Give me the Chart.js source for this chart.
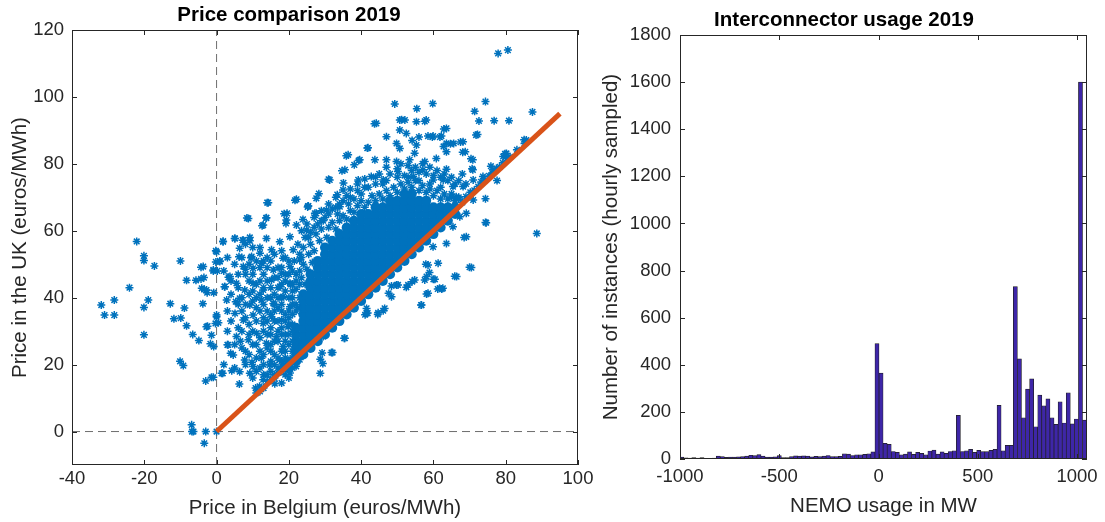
<!DOCTYPE html>
<html lang="en">
<head>
<meta charset="UTF-8">
<title>Price comparison and interconnector usage 2019</title>
<script src="https://cdn.jsdelivr.net/npm/chart.js"></script>
<style>
  body { margin: 0; background: #fff; }
  #wrap { position: relative; width: 1105px; height: 522px; }
  canvas { position: absolute; top: 0; }
  #priceChart { left: 0; }
  #usageChart { left: 598px; }
</style>
</head>
<body>
<div id="wrap">
  <canvas id="priceChart" width="598" height="522"></canvas>
  <canvas id="usageChart" width="507" height="522"></canvas>
</div>
<script>
// ---- price comparison (Belgium vs UK, euros/MWh) ----
const beRange = [-40, 100];
const ukRange = [-10, 120];
const beTicks = [-40, -20, 0, 20, 40, 60, 80, 100];
const ukTicks = [0, 20, 40, 60, 80, 100, 120];

// equal-price line, from 0 up to the highest price
const parityLine = [0, 95];

// individual hours, [Belgium, UK]
const hourPrices = [
  [-31.9,37.8],[-31.0,34.8],[-28.3,39.3],[-28.3,34.8],[-24.1,43.0],[-22.1,56.8],[-20.1,52.5],[-20.1,51.1],
  [-20.1,37.1],[-20.1,28.9],[-18.9,39.3],[-17.2,49.5],[-12.8,38.2],[-11.8,33.7],[-10.0,51.0],[-9.9,33.9],
  [-10.1,21.0],[-9.2,19.7],[-8.9,36.9],[-8.3,45.2],[-8.3,31.6],[-6.9,2.0],[-6.8,0],[-6.4,0],[-6.6,29.0],
  [-4.9,27.2],[-5.7,45.2],[-4.3,49.1],[-4.3,45.6],[-3.5,46.0],[-3.8,38.2],[-3.0,0],[-3.4,-3.5],[-3.0,15.1],
  [-2.5,31.5],[-1.7,26.2],[-1.4,16.2],[-2.6,41.5],[-3.4,42.5],[-0.9,48.0],[0.2,48.0],[-0.8,41.5],[-0.8,25.4],
  [0,53.7],[-0.2,50.7],[0.9,51.0],[0,0],[0,34.8],[-0.3,32.3],[0.5,32.5],[1.8,56.7],[1.7,17.4],[2.2,43.3],
  [3.3,46.1],[3.0,25.9],[3.9,23.4],[4.2,18.2],[5.0,57.7],[5.3,38.8],[6.6,27.0],[7.2,57.2],[6.2,52.2],
  [6.3,14.2],[8.4,63.8],[9.2,57.0],[8.0,48.5],[9.5,51.9],[9.8,20.7],[14.0,68.4],[12.6,61.5],[13.7,63.8],
  [18.7,65.1],[21.7,69.1],[19.3,63.2],[25.2,67.1],[28.3,71.1],[31.0,75.4],[33.4,70.8],[35.1,74.3],
  [34.7,77.9],[35.9,82.4],[38.1,79.7],[39.3,81.0],[41.7,84.7],[43.7,92.0],[49.3,97.9],[55.4,96.5],
  [59.8,98.0],[51.2,93.2],[57.6,92.7],[62.9,90.4],[61.8,88.0],[64.7,86.0],[67.5,86.5],[68.1,83.5],
  [62.8,85.2],[59.7,88.0],[56.0,88.0],[54.1,87.0],[74.4,98.6],[71.4,95.7],[72.6,92.8],[76.8,92.9],
  [80.9,92.9],[71.8,88.6],[77.9,113.0],[80.6,114.0],[87.4,95.5],[85.1,87.2],[79.8,83.0],[79.3,82.2],
  [70.4,81.5],[70.7,78.5],[75.9,79.3],[77.6,75.0],[74.4,69.6],[74.4,62.5],[88.6,59.2],[70.0,49.1],
  [65.9,46.4],[68.5,58.0],[61.2,42.6],[62.3,42.6],[60.0,45.5],[58.9,47.5],[57.9,50.0],[57.6,45.3],
  [56.6,37.8],[58.1,41.1],[54.1,44.8],[52.5,43.1],[50.2,43.8],[48.4,43.5],[47.6,41.3],[46.1,36.1],
  [44.6,35.0],[41.8,35.4],[41.5,36.8],[41.1,34.9],[35.3,27.9],[31.8,23.6],[29.2,23.5],[28.7,21.6],
  [29.4,20.3],[28.7,17.4],[20.3,17.5],[16.1,14.3],
  [14.3,68.4],[22.1,69.4],[8.8,63.7],[13.8,63.9],[19.5,65.2],[19.2,62.2],[12.9,61.7],[25.4,67.4],
  [27.6,65.2],[22.1,61.7],[24.9,60.2],[5.1,57.7],[1.8,56.9],[7.4,57.2],[9.2,58.0],[13.8,57.7],
  [17.5,56.7],[20.3,58.2],[-0.2,54.0],[6.4,54.8],[9.7,52.3],[12.0,53.3],[15.2,54.3],[18.4,51.8],
  [21.2,54.3],[23.0,51.3],[-0.9,48.3],[0.9,50.8],[3.7,46.3],[7.4,49.3],[10.1,48.8],[12.4,50.3],
  [15.7,48.3],[18.0,47.3],[20.3,49.3],[-3.7,49.3],[-4.1,42.8],[-2.8,42.3],[2.3,43.3],[5.5,44.3],
  [7.8,42.3],[10.1,44.3],[12.9,42.3],[15.2,45.3],[17.5,43.3],[20.3,44.3],[2.8,39.3],[6.4,39.8],
  [9.2,37.8],[12.4,39.3],[15.7,38.3],[18.4,40.3],[20.3,37.3],[0,34.3],[-2.8,31.3],[-1.4,28.8],
  [5.1,35.3],[7.4,33.3],[10.1,34.8],[12.9,32.3],[15.2,34.3],[18.0,33.3],[19.8,31.3],[3.2,25.9],
  [5.5,28.4],[8.8,27.4],[11.1,29.4],[13.8,26.4],[16.6,28.4],[18.4,25.4],[4.6,22.9],[7.8,21.4],
  [10.1,19.4],[12.4,21.9],[14.7,19.9],[17.5,21.4],[6.4,17.9],[9.2,17.4],[1.4,17.4],[-0.9,16.2],
  [29.5,28.4],[32.1,23.6],[35.5,27.9],[41.5,35.3],[44.7,35.5],[48.4,40.3],[49.8,43.8],[46.5,36.8],
  [53.0,43.8],[54.8,45.3],[58.1,46.3],[61.7,42.8],[62.6,42.8],[56.7,37.8],[58.5,41.3],[60.4,45.5],
  [66.4,46.3],[70.5,49.0],[69.1,58.2],[74.6,62.4],[58.5,49.8],[61.3,50.3],[65.4,61.2],[67.3,64.2],
  [63.6,56.2],[59.9,55.2],
  [44.2,92.1],[50.7,93.1],[52.1,93.1],[55.3,92.6],[58.0,93.1],[50.7,90.1],[52.5,89.1],[47.0,88.1],
  [58.5,88.3],[59.9,88.3],[62.2,88.3],[63.6,90.6],[63.6,86.1],[65.6,86.1],[68.2,86.6],[41.9,84.8],
  [49.8,86.1],[50.7,84.6],[55.3,85.6],[54.8,83.2],[60.8,81.6],[63.6,83.6],[68.8,83.6],[70.9,81.2],
  [36.4,82.7],[39.6,81.2],[43.8,81.2],[47.0,81.2],[49.8,80.7],[53.4,81.2],[57.6,80.7],[63.6,78.4],
  [70.9,78.2],[76.5,78.2],[80.2,83.1],[85.7,87.1],[72.2,88.8],[35.5,78.2],[31.3,75.2],[27.6,69.7],
  [25.3,67.4],[27.2,65.2],[23.9,63.4],[30.4,66.2],[34.1,67.2],[35.0,72.2],[39.2,75.2],[42.8,76.2],
  [46.1,75.2],[50.2,77.7],[54.4,76.2],[57.1,78.2],[59.9,75.2],[62.7,75.2],[65.4,73.2],[68.2,73.2],
  [66.3,70.2],[71.0,69.2],[69.1,65.2],[71.0,75.2],[73.7,76.2],
  [69,70.2],[70.2,71.5],[71.3,72.1],[72.4,73.2],[73.2,74.6],[74.3,75.1],[75.4,76.4],[76.3,77.2],
  [77.4,78.6],[78.3,79.1],[79.2,80.3],[80.3,81.6],[81.2,82.1],[83.1,84.2],[85.2,86.1],
  // ragged upper edge of the crowded part
  [22.5,37],[23,40],[22,42.5],[24.5,44],[23.5,46],[25,48.5],[24,50],[26.5,50.5],[25.5,53],[27,54],
  [26,56],[28.5,57],[27.5,59],[29,60.5],[30.5,58],[31,61],[29.5,63],[32,62.5],[33,60.5],[34,63],
  [33.5,65],[35,64.5],[36,63.5],[37,66],[36.5,68],[38,65.5],[39,67.5],[40,69],[41,67],[42,68.5],
  [43,70.5],[44,69],[45,71],[46,69.5],[47,72],[48,70.5],[49,73],[50,71.5],[51,74],[52,72.5],
  [53,74.5],[54,73],[55,75],[56,72],[57,73.5],[58,71.5],[59,72.5],[60,70.5],[61,72],[62,69.5],
  [63,71],[64,69.5],[65,70],[66,69],[67,69.5],[68,68.5],
  [21,40],[20.5,44],[22,47],[21.5,51],[23,53],[22.5,56],[24.5,58],[23.5,60],[26,59.5],[25,62],
  [28,62],[27,64],[30,64],[29,66],[32,66.5],[31,68],[34,68],[33,70],[36,70.5],[38,69.5],[37,72.5],
  [40,71],[39,74],[42,73],[41,75.5],[44,76],[46,74],[45,77],[48,77],[47,79],[50,78.5],[52,76.5],
  [51,80],[54,78],[53,79.5],[56,77.5],[55,79],[58,77],[57,80],[60,76.5],[59,79],[62,76],[61,78],
  [64,75],[63,77],[66,74],[65,76],[67,75],[68,77],[69,74],
  // speckled low-price hours
  [2,20],[3,36],[4,45],[5,19],[5,26],[6,43],[6,47],[7,25],[7,30],[7,40],[7,52],[8,20],[8,34],[8,38],
  [8,56],[9,23],[9,32],[9,45],[9,50],[10,26],[10,30],[10,39],[10,42],[10,47],[11,18],[11,33],[11,40],
  [11,44],[11,51],[12,24],[12,28],[12,36],[12,41],[12,49],[12,55],[13,20],[13,23],[13,34],[13,38],
  [13,43],[13,51],[14,15],[14,25],[14,29],[14,33],[14,36],[14,45],[14,49],[15,18],[15,21],[15,24],
  [15,29],[15,35],[15,40],[15,43],[15,51],[16,17],[16,23],[16,27],[16,33],[16,38],[16,41],[16,46],
  [16,53],[17,19],[17,22],[17,27],[17,33],[17,37],[17,40],[17,46],[18,18],[18,21],[18,24],[18,29],
  [18,31],[18,36],[18,38],[18,44],[18,49],[18,54],[19,17],[19,20],[19,24],[19,29],[19,33],[19,35],
  [19,42],[19,45],[19,47],[19,52],[20,19],[20,21],[20,26],[20,29],[20,34],[20,36],[20,40],[20,51],
  [21,22],[21,24],[21,27],[21,30],[21,32],[21,35],[21,44],[21,48],[22,19.5],[22,36],[22,38],
  [23,21.5],[23,44],[11,11.5],[12,12],[13,13],[15,15.5],[16,16],[17,17.5],[19,18.5],[20,19],
  [21,38],[21,42],[22,45],[23,48],[23.5,52],[24,55],[25.5,58],[27,61],[29,63],[31,65],[33,67],
  [35,69],[37,70],[39,72],[41,73],[44,74],[47,75],[50,76],[53,76],[56,75],[59,74],[62,73],[65,71],
  [67,70],[19,22],[19,27],[20,32],[17,30],[16,36],[14,40],[12,45],[9,41],[11,37],[13,30],[15,26],
  [18,40],[20,47],[17,49],[14,52],[10,55],[8,47],[6,38],[4,33],[3,30],[8,24],[11,22],[13,17],
  [16,20],[18,14.5],[20,16],[21,19],[10,16],[12,19],[6,31],[7,36],[9,29],[11,26],[15,31],[17,43],
  [13,47],[5,50],[3,52],[2,48],[4,41],[10.8,13],[11.9,13.5],[12.9,15.5],[14,17],[18.2,19.5]
];

// the crowded middle of the year, by Belgian price: [Belgium, [UK prices]]
const busyHours = [
  [20, [19, 21]],
  [22, [21, 23, 25, 27, 29, 31]],
  [24, [23, 25, 27, 29, 31, 33, 35, 37, 39, 41]],
  [26, [25, 27, 29, 31, 33, 35, 37, 39, 41, 43, 45, 47]],
  [28, [27, 29, 31, 33, 35, 37, 39, 41, 43, 45, 47, 49, 51]],
  [30, [29, 31, 33, 35, 37, 39, 41, 43, 45, 47, 49, 51, 53, 55]],
  [32, [31, 33, 35, 37, 39, 41, 43, 45, 47, 49, 51, 53, 55, 57]],
  [34, [33, 35, 37, 39, 41, 43, 45, 47, 49, 51, 53, 55, 57, 59]],
  [36, [35, 37, 39, 41, 43, 45, 47, 49, 51, 53, 55, 57, 59, 61]],
  [38, [37, 39, 41, 43, 45, 47, 49, 51, 53, 55, 57, 59, 61, 63]],
  [40, [39, 41, 43, 45, 47, 49, 51, 53, 55, 57, 59, 61, 63, 65]],
  [42, [41, 43, 45, 47, 49, 51, 53, 55, 57, 59, 61, 63, 65]],
  [44, [43, 45, 47, 49, 51, 53, 55, 57, 59, 61, 63, 65, 67]],
  [46, [45, 47, 49, 51, 53, 55, 57, 59, 61, 63, 65, 67]],
  [48, [47, 49, 51, 53, 55, 57, 59, 61, 63, 65, 67, 69]],
  [50, [49, 51, 53, 55, 57, 59, 61, 63, 65, 67, 69]],
  [52, [51, 53, 55, 57, 59, 61, 63, 65, 67, 69, 71]],
  [54, [53, 55, 57, 59, 61, 63, 65, 67, 69, 71]],
  [56, [55, 57, 59, 61, 63, 65, 67, 69]],
  [58, [57, 59, 61, 63, 65, 67, 69]],
  [60, [59, 61, 63, 65, 67]],
  [62, [61, 63, 65, 67]],
  [64, [63, 65, 67]],
  [66, [65, 67]]
];

// ---- NEMO interconnector usage (MW), 100 bins ----
const usageLow = -1002;
const usageBinWidth = 20.5;
const usageCounts = [
  8, 5, 4, 6, 4, 6, 3, 3, 4, 12,
  10, 7, 8, 8, 9, 10, 12, 16, 14, 19,
  12, 8, 8, 9, 14, 6, 6, 10, 13, 12,
  13, 12, 9, 11, 10, 12, 15, 10, 10, 11,
  22, 21, 15, 18, 18, 20, 22, 30, 490, 365,
  66, 62, 32, 28, 18, 21, 30, 20, 28, 24,
  18, 34, 38, 21, 30, 24, 32, 35, 185, 32,
  35, 41, 28, 37, 31, 31, 37, 41, 228, 35,
  58, 58, 732, 425, 175, 297, 340, 137, 271, 226,
  255, 175, 147, 243, 153, 281, 149, 170, 1600, 165
];
const usageXTicks = [-1000, -500, 0, 500, 1000];
const usageYTicks = [0, 200, 400, 600, 800, 1000, 1200, 1400, 1600, 1800];

const family = '"Liberation Sans", Arial, Helvetica, sans-serif';
const tickFont = { family, size: 18.5 };
const labelFont = { family, size: 20.5 };
const titleFont = { family, size: 20.5, weight: 'bold' };
const axisInk = '#262626';

// matlab-style box: full frame with inward tick marks on all four sides
const axisFrame = {
  id: 'axisFrame',
  afterDraw(chart) {
    const { ctx, chartArea: a, scales: { x, y } } = chart;
    const len = 5;
    ctx.save();
    ctx.strokeStyle = axisInk;
    ctx.lineWidth = 1;
    ctx.beginPath();
    x.ticks.forEach(t => {
      const px = Math.round(x.getPixelForValue(t.value)) + 0.5;
      ctx.moveTo(px, a.bottom); ctx.lineTo(px, a.bottom - len);
      ctx.moveTo(px, a.top); ctx.lineTo(px, a.top + len);
    });
    y.ticks.forEach(t => {
      const py = Math.round(y.getPixelForValue(t.value)) + 0.5;
      ctx.moveTo(a.left, py); ctx.lineTo(a.left + len, py);
      ctx.moveTo(a.right, py); ctx.lineTo(a.right - len, py);
    });
    ctx.stroke();
    ctx.strokeRect(Math.round(a.left) + 0.5, Math.round(a.top) + 0.5,
      Math.round(a.width) - 1, Math.round(a.height) - 1);
    ctx.restore();
  }
};

function fixedTicks(values) {
  return scale => { scale.ticks = values.map(value => ({ value })); };
}

function axis(opts) {
  return {
    type: 'linear',
    min: opts.range[0],
    max: opts.range[1],
    offset: false,
    afterBuildTicks: fixedTicks(opts.ticks),
    afterFit: opts.fit,
    grid: { display: false, drawTicks: false, offset: false },
    border: { display: false },
    ticks: {
      font: tickFont, color: axisInk, padding: opts.pad, maxRotation: 0, autoSkip: false,
      callback: v => String(v)
    },
    title: { display: true, text: opts.title, font: labelFont, color: axisInk, padding: opts.titlePad }
  };
}

const scatterPoints = hourPrices.map(([x, y]) => ({ x, y }));
const corePoints = busyHours.flatMap(([x, ys]) => ys.map(y => ({ x, y })));

new Chart(document.getElementById('priceChart'), {
  type: 'scatter',
  data: {
    datasets: [
      {
        data: parityLine.map(v => ({ x: v, y: v })),
        showLine: true, borderColor: '#D95319', borderWidth: 5, pointRadius: 0, order: 0
      },
      {
        data: scatterPoints, pointStyle: 'star', pointRadius: 4,
        borderColor: '#0072BD', borderWidth: 1.5, order: 1
      },
      {
        data: corePoints, pointStyle: 'circle', pointRadius: 5,
        backgroundColor: '#0072BD', borderWidth: 0, order: 2
      },
      {
        data: [{ x: 0, y: ukRange[0] }, { x: 0, y: ukRange[1] }],
        showLine: true, borderColor: '#6e6e6e', borderWidth: 1, borderDash: [8, 5], pointRadius: 0, order: 3
      },
      {
        data: [{ x: beRange[0], y: 0 }, { x: beRange[1], y: 0 }],
        showLine: true, borderColor: '#6e6e6e', borderWidth: 1, borderDash: [8, 5], pointRadius: 0, order: 3
      }
    ]
  },
  options: {
    responsive: false,
    animation: false,
    events: [],
    layout: { padding: { left: 0, right: 20, top: 0, bottom: 0 } },
    plugins: {
      legend: { display: false },
      tooltip: { enabled: false },
      title: {
        display: true, text: 'Price comparison 2019', font: titleFont, color: '#000',
        padding: { top: 3, bottom: 2.4 }
      }
    },
    scales: {
      x: axis({
        range: beRange, ticks: beTicks, pad: 3, title: 'Price in Belgium (euros/MWh)',
        titlePad: { top: 0, bottom: 1.7 }, fit: s => { s.height = 57; }
      }),
      y: axis({
        range: ukRange, ticks: ukTicks, pad: 8, title: 'Price in the UK (euros/MWh)',
        titlePad: { top: 7.7, bottom: 0 }, fit: s => { s.width = 72; }
      })
    }
  },
  plugins: [axisFrame]
});

new Chart(document.getElementById('usageChart'), {
  type: 'bar',
  data: {
    datasets: [{
      data: usageCounts.map((c, i) => ({ x: usageLow + (i + 0.5) * usageBinWidth, y: c })),
      backgroundColor: '#3E26A8',
      borderColor: '#1f1f1f',
      borderWidth: 0.7,
      borderSkipped: false,
      barPercentage: 1,
      categoryPercentage: 1
    }]
  },
  options: {
    responsive: false,
    animation: false,
    events: [],
    layout: { padding: { left: 0, right: 15, top: 0, bottom: 0 } },
    plugins: {
      legend: { display: false },
      tooltip: { enabled: false },
      title: {
        display: true, text: 'Interconnector usage 2019', font: titleFont, color: '#000',
        padding: { top: 7.7, bottom: 2.7 }
      }
    },
    scales: {
      x: axis({
        range: [-1000, 1050], ticks: usageXTicks, pad: 7, title: 'NEMO usage in MW',
        titlePad: { top: 0, bottom: 3 }, fit: s => { s.height = 63; }
      }),
      y: axis({
        range: [0, 1800], ticks: usageYTicks, pad: 9, title: 'Number of instances (hourly sampled)',
        titlePad: { top: 1.4, bottom: 0 }, fit: s => { s.width = 82; }
      })
    }
  },
  plugins: [axisFrame]
});
</script>
</body>
</html>
